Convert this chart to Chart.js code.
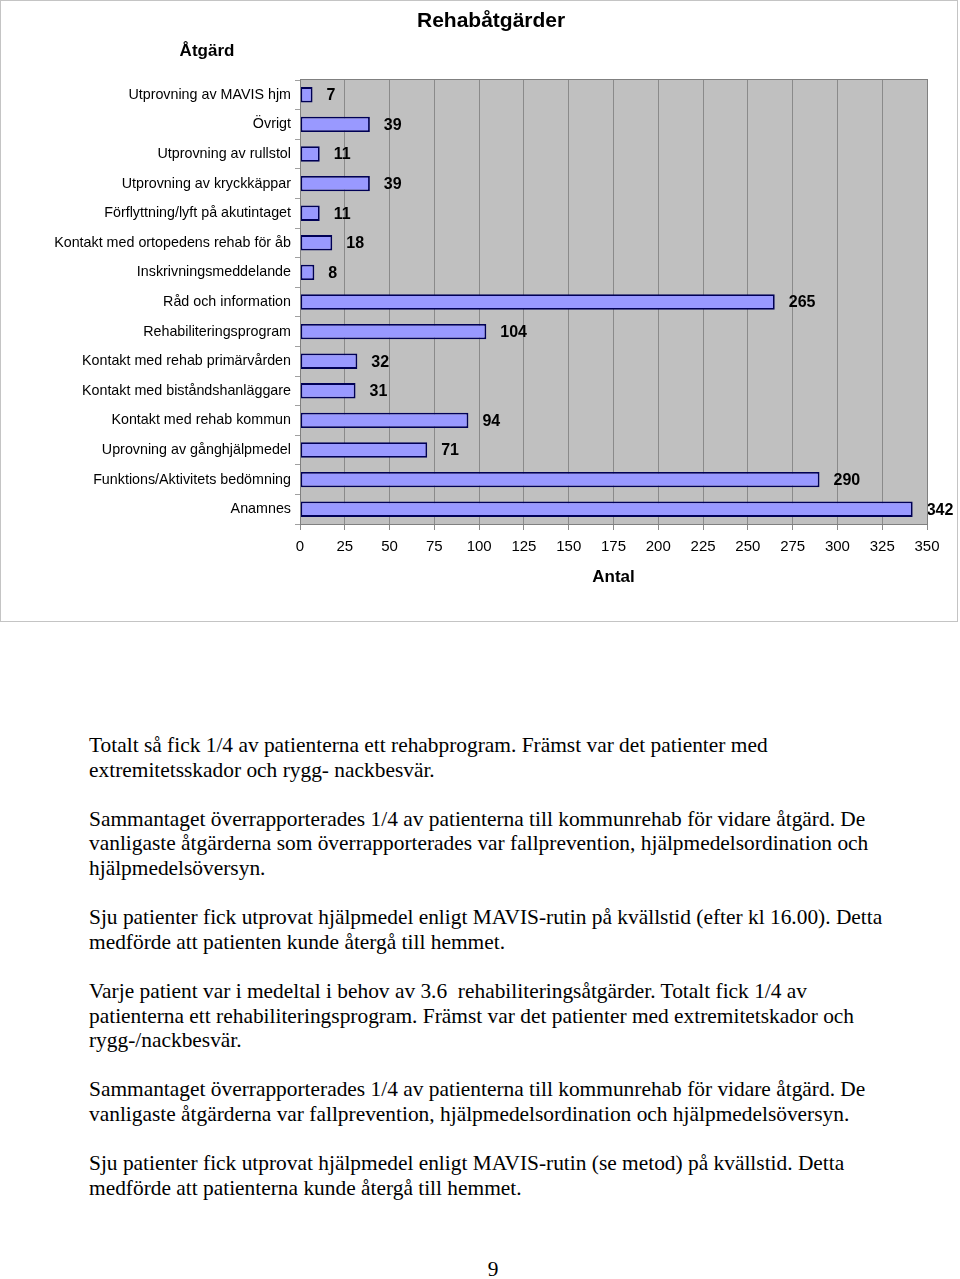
<!DOCTYPE html>
<html>
<head>
<meta charset="utf-8">
<script src="https://cdn.jsdelivr.net/npm/chart.js@4/dist/chart.umd.min.js"></script>
<style>
  body { margin: 0; background: #fff; width: 960px; height: 1279px; position: relative; overflow: hidden; }
  #box { position: absolute; left: 0; top: 0; width: 958px; height: 622px; border: 1px solid #c4c4c4; box-sizing: border-box; }
  #box canvas { display: block; }
  #text { position: absolute; left: 89px; top: 733px; font-family: "Liberation Serif", serif; font-size: 21.4px; line-height: 24.6px; color: #000; white-space: nowrap; }
  #text p { margin: 0 0 24.6px 0; }
  #page { position: absolute; left: 0; width: 986px; top: 1257px; text-align: center; font-family: "Liberation Serif", serif; font-size: 21.4px; }
</style>
</head>
<body>
<div id="box"><canvas id="rehab-chart" width="956" height="620"></canvas></div>

<div id="text">
  <p>Totalt så fick 1/4 av patienterna ett rehabprogram. Främst var det patienter med<br>extremitetsskador och rygg- nackbesvär.</p>
  <p>Sammantaget överrapporterades 1/4 av patienterna till kommunrehab för vidare åtgärd. De<br>vanligaste åtgärderna som överrapporterades var fallprevention, hjälpmedelsordination och<br>hjälpmedelsöversyn.</p>
  <p>Sju patienter fick utprovat hjälpmedel enligt MAVIS-rutin på kvällstid (efter kl 16.00). Detta<br>medförde att patienten kunde återgå till hemmet.</p>
  <p>Varje patient var i medeltal i behov av 3.6&nbsp; rehabiliteringsåtgärder. Totalt fick 1/4 av<br>patienterna ett rehabiliteringsprogram. Främst var det patienter med extremitetskador och<br>rygg-/nackbesvär.</p>
  <p>Sammantaget överrapporterades 1/4 av patienterna till kommunrehab för vidare åtgärd. De<br>vanligaste åtgärderna var fallprevention, hjälpmedelsordination och hjälpmedelsöversyn.</p>
  <p>Sju patienter fick utprovat hjälpmedel enligt MAVIS-rutin (se metod) på kvällstid. Detta<br>medförde att patienterna kunde återgå till hemmet.</p>
</div>
<div id="page">9</div>

<script>
var categories = [
  "Utprovning av MAVIS hjm",
  "Övrigt",
  "Utprovning av rullstol",
  "Utprovning av kryckkäppar",
  "Förflyttning/lyft på akutintaget",
  "Kontakt med ortopedens rehab för åb",
  "Inskrivningsmeddelande",
  "Råd och information",
  "Rehabiliteringsprogram",
  "Kontakt med rehab primärvården",
  "Kontakt med biståndshanläggare",
  "Kontakt med rehab kommun",
  "Uprovning av gånghjälpmedel",
  "Funktions/Aktivitets bedömning",
  "Anamnes"
];
var antal = [7, 39, 11, 39, 11, 18, 8, 265, 104, 32, 31, 94, 71, 290, 342];
var xTicks = [0, 25, 50, 75, 100, 125, 150, 175, 200, 225, 250, 275, 300, 325, 350];

var chartTitle = "Rehabåtgärder";
var yTitle = "Åtgärd";
var xTitle = "Antal";

var sans = "'Liberation Sans', Arial, sans-serif";

// gray plot background + frame
var plotBackground = {
  id: 'plotBackground',
  beforeDraw: function (chart) {
    var a = chart.chartArea, ctx = chart.ctx;
    ctx.save();
    ctx.fillStyle = '#c0c0c0';
    ctx.fillRect(a.left, a.top, a.right - a.left, a.bottom - a.top);
    ctx.restore();
  },
  afterDraw: function (chart) {
    var a = chart.chartArea, ctx = chart.ctx;
    ctx.save();
    ctx.strokeStyle = '#808080';
    ctx.lineWidth = 1;
    ctx.strokeRect(a.left + 0.5, a.top - 0.5, a.right - a.left, a.bottom - a.top + 1);
    ctx.restore();
  }
};

// titles drawn like Excel: chart title over labels+plot, axis title above the labels
var headings = {
  id: 'headings',
  afterDraw: function (chart) {
    var a = chart.chartArea, ctx = chart.ctx;
    ctx.save();
    ctx.font = '14.3px ' + sans;
    var widest = 0;
    categories.forEach(function (c) { widest = Math.max(widest, ctx.measureText(c).width); });
    var labelsLeft = a.left - 8 - widest;
    ctx.fillStyle = '#000';
    ctx.textAlign = 'center';
    ctx.textBaseline = 'middle';
    ctx.font = 'bold 21px ' + sans;
    ctx.fillText(chartTitle, (labelsLeft + a.right) / 2, 20);
    ctx.font = 'bold 17px ' + sans;
    ctx.fillText(yTitle, a.left - 93, 50);
    ctx.restore();
  }
};

var valueLabels = {
  id: 'valueLabels',
  afterDatasetsDraw: function (chart) {
    var ctx = chart.ctx;
    var meta = chart.getDatasetMeta(0);
    ctx.save();
    ctx.font = 'bold 16px ' + sans;
    ctx.fillStyle = '#000';
    ctx.textAlign = 'left';
    ctx.textBaseline = 'middle';
    meta.data.forEach(function (bar, i) {
      ctx.fillText(String(antal[i]), bar.x + 14, bar.y + 1);
    });
    ctx.restore();
  }
};

var ctx = document.getElementById('rehab-chart');
var rehabChart = new Chart(ctx, {
  type: 'bar',
  data: {
    labels: categories,
    datasets: [{
      label: xTitle,
      data: antal,
      backgroundColor: '#9999ff',
      borderColor: '#000055',
      borderWidth: 1.8,
      borderSkipped: false,
      barPercentage: 0.52,
      categoryPercentage: 1
    }]
  },
  options: {
    indexAxis: 'y',
    responsive: false,
    animation: false,
    events: [],
    layout: { padding: { top: 79, right: 30, left: 0, bottom: 0 } },
    plugins: {
      legend: { display: false },
      tooltip: { enabled: false },
      title: { display: false }
    },
    scales: {
      x: {
        type: 'linear',
        min: 0,
        max: 350,
        afterBuildTicks: function (scale) {
          scale.ticks = xTicks.map(function (v) { return { value: v }; });
        },
        afterFit: function (scale) { scale.height = 97; },
        border: { color: '#808080' },
        grid: { color: '#8a8a8a', tickLength: 6, drawTicks: true },
        ticks: { color: '#000', font: { family: sans, size: 15 }, padding: 8, maxRotation: 0, autoSkip: false },
        title: { display: true, text: xTitle, color: '#000', font: { family: sans, size: 17, weight: 'bold' }, padding: { top: 0, bottom: 33 } }
      },
      y: {
        type: 'category',
        afterFit: function (scale) { scale.width = 299; },
        border: { color: '#808080' },
        grid: { drawOnChartArea: false, color: '#a0a0a0', tickLength: 5, offset: true },
        ticks: { color: '#000', font: { family: sans, size: 14.3 }, padding: 4, autoSkip: false }
      }
    }
  },
  plugins: [plotBackground, headings, valueLabels]
});
</script>
</body>
</html>
